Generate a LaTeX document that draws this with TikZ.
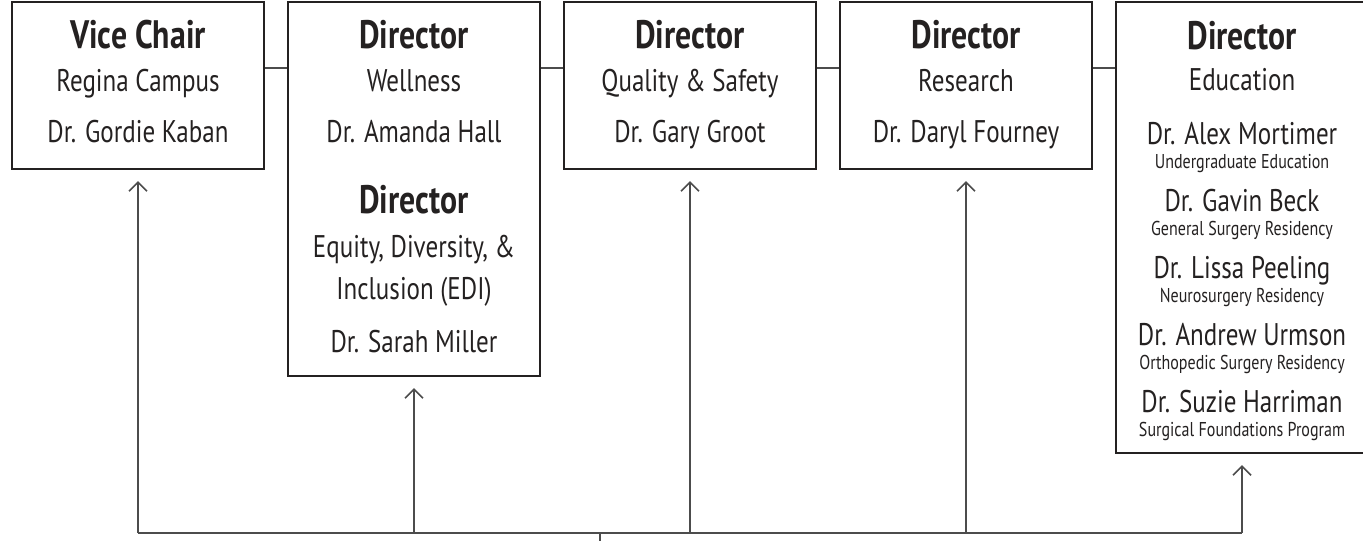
\documentclass[tikz,border=0pt]{standalone}
\usepackage{fontspec}
\setmainfont[FakeStretch=0.8]{PT Sans}
\usepackage{tikz}
\usetikzlibrary{arrows.meta}
\definecolor{ink}{rgb}{0.14,0.13,0.13}
\definecolor{wire}{rgb}{0.3,0.3,0.3}

\tikzset{
  box/.style={draw=ink, line width=0.6pt, minimum width=2.52cm, inner sep=0pt, anchor=north},
  headtxt/.style={anchor=base, text=ink, font=\fontsize{11.3}{13}\selectfont\bfseries},
  subtxt/.style={anchor=base, text=ink, font=\fontsize{8.9}{10}\selectfont},
  roletxt/.style={anchor=base, text=ink, font=\fontsize{5.7}{7}\selectfont},
  wire/.style={draw=wire, line width=0.45pt},
}

\begin{document}
\begin{tikzpicture}[>={Straight Barb[length=0.9mm,width=1.8mm]}]
	\useasboundingbox (0,0) rectangle (13.63,-5.40);
	% boxes
	\node[box, minimum height=1.67cm] (vc) at (1.38,-0.01) {};
	\node[box, minimum height=3.74cm] (wel) at (4.14,-0.01) {};
	\node[box, minimum height=1.67cm] (qs) at (6.90,-0.01) {};
	\node[box, minimum height=1.67cm] (res) at (9.66,-0.01) {};
	\node[box, minimum height=4.51cm] (edu) at (12.42,-0.01) {};
	% vice chair
	\node[headtxt] (vc-h) at (1.38,-0.49) {Vice Chair};
	\node[subtxt] (vc-s) at (1.38,-0.92) {Regina Campus};
	\node[subtxt] (vc-n) at (1.38,-1.43) {Dr. Gordie Kaban};
	% wellness and EDI
	\node[headtxt] (wel-h) at (4.14,-0.49) {Director};
	\node[subtxt] (wel-s) at (4.14,-0.92) {Wellness};
	\node[subtxt] (wel-n) at (4.14,-1.43) {Dr. Amanda Hall};
	\node[headtxt] (edi-h) at (4.14,-2.13) {Director};
	\node[subtxt] (edi-s) at (4.14,-2.57) {Equity, Diversity, \&};
	\node[subtxt] (edi-t) at (4.14,-2.99) {Inclusion (EDI)};
	\node[subtxt] (edi-n) at (4.14,-3.52) {Dr. Sarah Miller};
	% quality
	\node[headtxt] (qs-h) at (6.90,-0.49) {Director};
	\node[subtxt] (qs-s) at (6.90,-0.92) {Quality \& Safety};
	\node[subtxt] (qs-n) at (6.90,-1.43) {Dr. Gary Groot};
	% research
	\node[headtxt] (res-h) at (9.66,-0.49) {Director};
	\node[subtxt] (res-s) at (9.66,-0.92) {Research};
	\node[subtxt] (res-n) at (9.66,-1.43) {Dr. Daryl Fourney};
	% education
	\node[headtxt] (edu-h) at (12.42,-0.50) {Director};
	\node[subtxt] (edu-s) at (12.42,-0.91) {Education};
	\foreach \nm/\role [count=\i] in {Dr. Alex Mortimer/Undergraduate Education,
	                                  Dr. Gavin Beck/General Surgery Residency,
	                                  Dr. Lissa Peeling/Neurosurgery Residency,
	                                  Dr. Andrew Urmson/Orthopedic Surgery Residency,
	                                  Dr. Suzie Harriman/Surgical Foundations Program}{
		\node[subtxt] (edu-n\i) at (12.42,{-1.45-0.6675*(\i-1)}) {\nm};
		\node[roletxt] (edu-r\i) at (12.42,{-1.69-0.6675*(\i-1)}) {\role};
	}
	% links between boxes
	\coordinate (link) at (0,-0.68);
	\foreach \a/\b in {vc/wel, wel/qs, qs/res, res/edu}
		\draw[wire] (\a.east |- link) -- (\b.west |- link);
	% bus
	\coordinate (bus) at (6.00,-5.33);
	\coordinate (stub) at (6.00,-5.45);
	\draw[wire] (vc.south |- bus) -- (edu.south |- bus);
	\draw[wire] (bus) -- (stub);
	\foreach \b in {vc,wel,qs,res,edu}
		\draw[wire,->,shorten >=0.11cm] (\b.south |- bus) -- (\b.south);
\end{tikzpicture}
\end{document}
